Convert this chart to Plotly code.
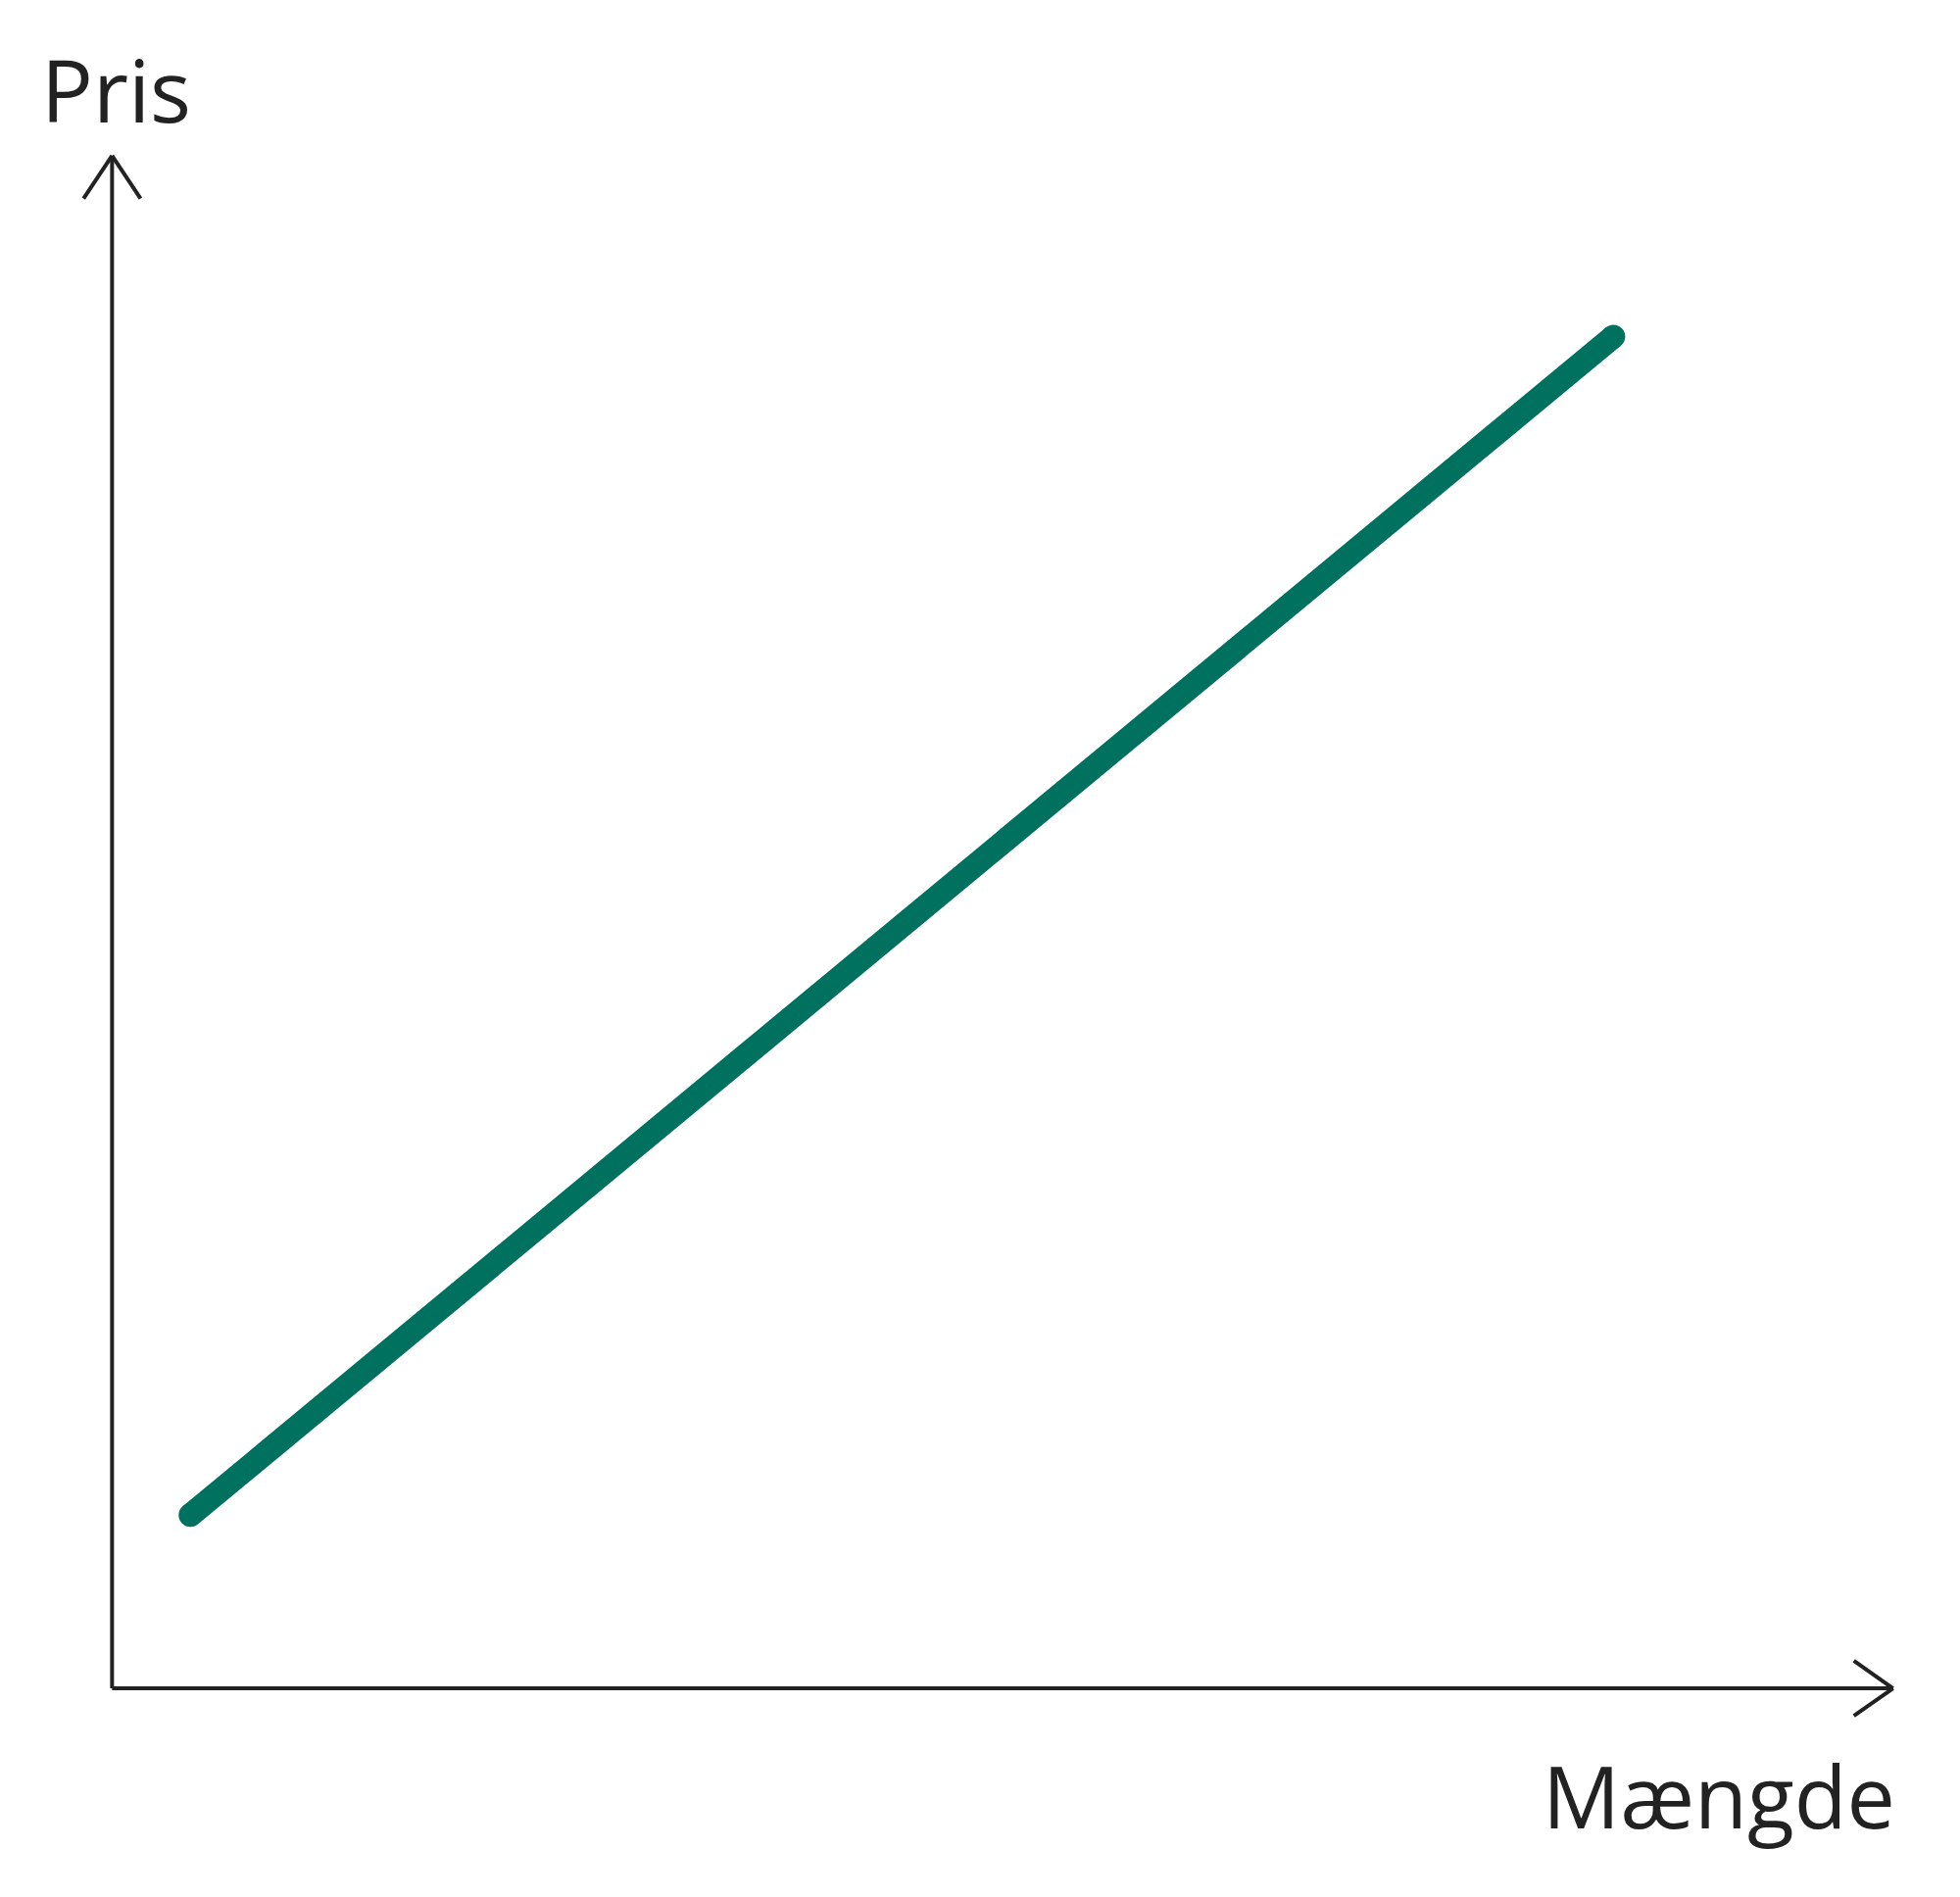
import plotly.graph_objects as go

quantity = [0.44, 8.43]
price = [1.13, 8.82]
x_label = "Mængde"
y_label = "Pris"

W, H = 2000, 1936
fig = go.Figure()
fig.add_trace(go.Scatter(x=quantity, y=price, mode="lines+markers",
                         line=dict(color="#00715f", width=24),
                         marker=dict(color="#00715f", size=24), hoverinfo="skip"))
axx = dict(range=[-0.2, 10.2], showgrid=False, zeroline=False, showticklabels=False, ticks="")
axy = dict(range=[-0.3, 10.3], showgrid=False, zeroline=False, showticklabels=False, ticks="")
axc = "#222222"
lw = 4
shapes = [
    dict(type="line", x0=0, y0=0, x1=10, y1=0, line=dict(color=axc, width=lw)),
    dict(type="line", x0=0, y0=0, x1=0, y1=10, line=dict(color=axc, width=lw)),
    dict(type="line", x0=-0.16, y0=9.72, x1=0, y1=10, line=dict(color=axc, width=lw)),
    dict(type="line", x0=0.16, y0=9.72, x1=0, y1=10, line=dict(color=axc, width=lw)),
    dict(type="line", x0=9.78, y0=0.18, x1=10, y1=0, line=dict(color=axc, width=lw)),
    dict(type="line", x0=9.78, y0=-0.18, x1=10, y1=0, line=dict(color=axc, width=lw)),
]
fig.update_layout(
    width=W, height=H, margin=dict(l=70, r=40, t=104, b=174),
    plot_bgcolor="white", paper_bgcolor="white", showlegend=False,
    xaxis=axx, yaxis=axy, shapes=shapes,
    annotations=[
        dict(text=y_label, xref="paper", yref="paper", x=-0.02, y=1.05,
             xanchor="left", yanchor="top", showarrow=False,
             font=dict(family="Open Sans", size=88, color="#222")),
        dict(text=x_label, xref="paper", yref="paper", x=0.983, y=0.0,
             xanchor="right", yanchor="top", showarrow=False,
             font=dict(family="Open Sans", size=88, color="#222")),
    ],
)
fig.write_html("out.html")
